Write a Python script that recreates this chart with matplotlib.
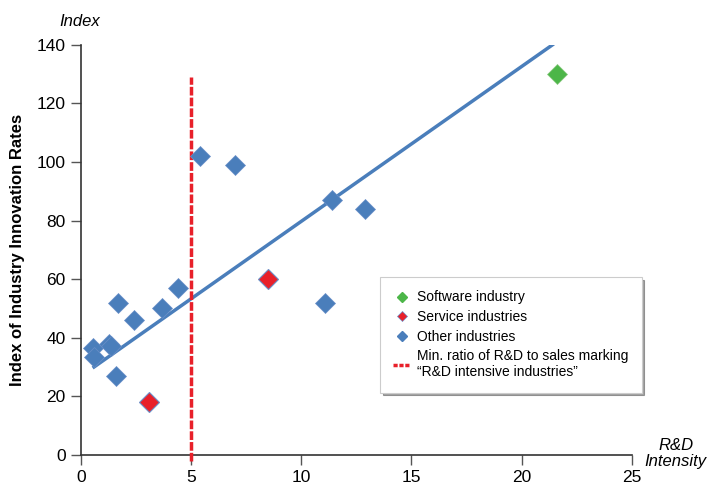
import numpy as np
import matplotlib.pyplot as plt
from matplotlib.lines import Line2D

plt.rcParams['font.family'] = ['Liberation Sans', 'DejaVu Sans']

# data
other_x = [0.55, 0.6, 1.3, 1.35, 1.6, 1.7, 2.4, 3.7, 4.4, 5.4, 7.0, 11.1, 11.4, 12.9]
other_y = [36.5, 33.5, 38, 37, 27, 52, 46, 50, 57, 102, 99, 52, 87, 84]
service_x = [3.1, 8.5]
service_y = [18, 60]
software_x = [21.6]
software_y = [130]
trend_x = [0.6, 21.4]
trend_y = [30, 140]
threshold_x = 5
threshold_top = 129

blue = '#4a7ebb'
red = '#e8202a'
green = '#4cb648'

fig = plt.figure(figsize=(7.09, 4.88), dpi=100)
ax = fig.add_axes([0.114, 0.068, 0.777, 0.84])

ax.plot(trend_x, trend_y, color=blue, lw=2.5, zorder=2)
ax.plot([threshold_x, threshold_x], [-2, threshold_top], color=red, lw=2.5,
        linestyle=(0, (2.5, 0.6)), zorder=3, clip_on=False)
ax.plot(other_x, other_y, 'D', color=blue, ms=10.5, mec='#6a8fc8', mew=0.5, ls='none', zorder=4)
ax.plot(service_x, service_y, 'D', color=red, ms=10.5, mec='#6a8fc8', mew=0.8, ls='none', zorder=4)
ax.plot(software_x, software_y, 'D', color=green, ms=10.5, mec='#8ac880', mew=0.5, ls='none', zorder=4)

ax.set_xlim(0, 25)
ax.set_ylim(0, 140)
ax.set_xticks([0, 5, 10, 15, 20, 25])
ax.set_yticks([0, 20, 40, 60, 80, 100, 120, 140])
ax.spines['top'].set_visible(False)
ax.spines['right'].set_visible(False)
for s in ['left', 'bottom']:
    ax.spines[s].set_color('#333333')
    ax.spines[s].set_linewidth(1.2)
ax.tick_params(direction='out', length=7, width=1, color='#555555', labelsize=12.5, pad=4)

ax.set_ylabel('Index of Industry Innovation Rates', fontsize=12, fontweight='bold', labelpad=8)
fig.text(0.113, 0.955, 'Index', fontsize=12, style='italic', ha='center', va='center')
fig.text(0.953, 0.07, 'R&D\nIntensity', fontsize=12, style='italic', ha='center', va='center',
         linespacing=1.1)

handles = [
    Line2D([], [], marker='D', color=green, ls='none', ms=5),
    Line2D([], [], marker='D', color=red, ls='none', ms=5, mec='#6a8fc8', mew=0.5),
    Line2D([], [], marker='D', color=blue, ls='none', ms=5),
    Line2D([], [], color=red, lw=2.5, linestyle=(0, (1.2, 0.5))),
]
labels = ['Software industry', 'Service industries', 'Other industries',
          'Min. ratio of R&D to sales marking\n\u201cR&D intensive industries\u201d']
leg = ax.legend(handles, labels, loc='upper left', bbox_to_anchor=(0.531, 0.45),
                fontsize=10, frameon=True, shadow=True, fancybox=False,
                handlelength=1.2, handletextpad=0.5, borderpad=0.95, labelspacing=0.4,
                edgecolor='#cccccc')
leg.get_frame().set_linewidth(0.8)

fig.savefig('out.png', dpi=100)
